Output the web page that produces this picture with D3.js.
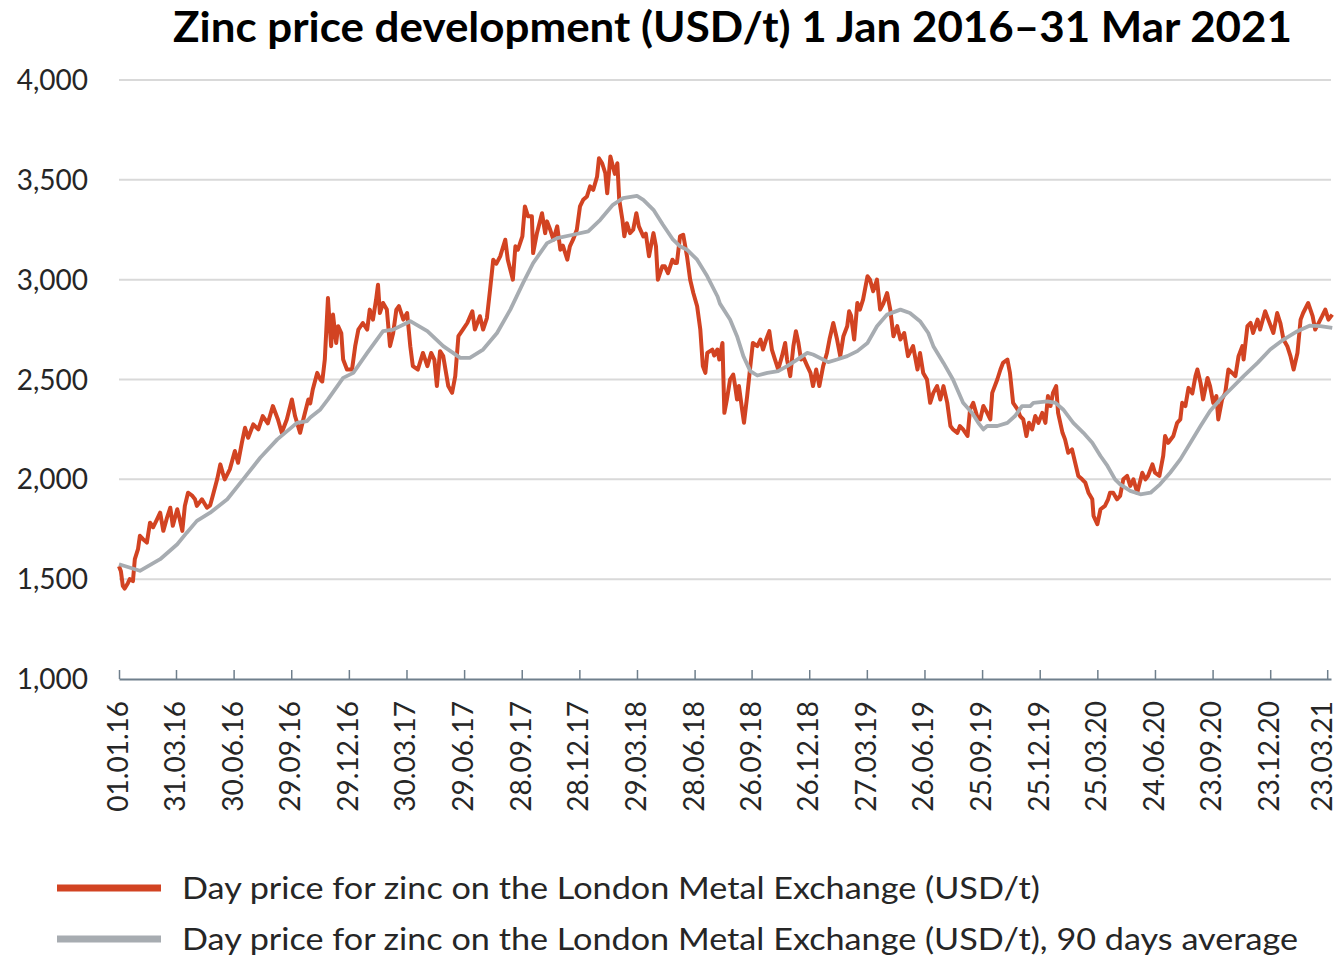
<!DOCTYPE html>
<html>
<head>
<meta charset="utf-8">
<script src="https://cdn.jsdelivr.net/npm/d3@7"></script>
<style>
  body { margin: 0; background: #fff; }
  svg { display: block; font-family: Lato, "Open Sans", sans-serif; }
</style>
</head>
<body>
<svg width="1340" height="963"></svg>
<script>
// days counted from 1 Jan 2016
var startDate = "2016-01-01";
var endDate = "2021-03-29";

var priceDays = [0, 3, 6, 9, 14, 17, 22, 25, 30, 33, 38, 44, 49, 54, 60, 65, 70, 76, 81, 85, 92, 96, 100, 104, 109, 115, 120, 123, 131, 139, 144, 148, 155, 160, 164, 167, 175, 183, 188, 194, 199, 204, 212, 220, 227, 235, 243, 251, 257, 265, 273, 278, 286, 291, 299, 302, 306, 313, 318, 321, 325, 330, 335, 338, 343, 346, 351, 354, 360, 368, 373, 378, 385, 392, 396, 401, 406, 409, 412, 417, 423, 428, 433, 438, 442, 449, 455, 460, 464, 472, 480, 487, 493, 498, 502, 507, 512, 520, 526, 531, 536, 543, 550, 558, 562, 570, 575, 581, 586, 591, 596, 602, 610, 614, 622, 626, 630, 637, 641, 646, 652, 654, 660, 668, 673, 676, 681, 686, 692, 697, 701, 708, 712, 717, 723, 728, 733, 739, 744, 749, 755, 758, 763, 768, 771, 776, 780, 783, 787, 790, 795, 798, 802, 807, 812, 817, 821, 828, 832, 837, 844, 848, 851, 858, 862, 867, 874, 878, 881, 886, 891, 897, 902, 907, 913, 918, 922, 926, 929, 937, 940, 945, 948, 953, 956, 960, 965, 970, 973, 976, 979, 984, 987, 992, 997, 1001, 1008, 1013, 1017, 1022, 1027, 1031, 1036, 1041, 1047, 1052, 1055, 1060, 1065, 1069, 1073, 1077, 1080, 1087, 1092, 1096, 1101, 1106, 1112, 1118, 1122, 1128, 1134, 1139, 1144, 1150, 1153, 1156, 1161, 1166, 1170, 1175, 1182, 1186, 1191, 1197, 1202, 1207, 1213, 1218, 1223, 1229, 1234, 1240, 1246, 1254, 1261, 1265, 1270, 1276, 1281, 1286, 1292, 1297, 1302, 1308, 1313, 1317, 1324, 1328, 1333, 1340, 1344, 1349, 1355, 1360, 1365, 1371, 1376, 1379, 1387, 1392, 1396, 1403, 1407, 1412, 1419, 1423, 1428, 1433, 1437, 1442, 1447, 1452, 1458, 1463, 1467, 1471, 1475, 1480, 1483, 1490, 1494, 1499, 1505, 1510, 1515, 1521, 1526, 1531, 1537, 1539, 1545, 1550, 1557, 1562, 1565, 1570, 1576, 1581, 1586, 1592, 1597, 1602, 1608, 1616, 1621, 1625, 1632, 1636, 1643, 1649, 1652, 1657, 1665, 1671, 1676, 1679, 1684, 1689, 1695, 1700, 1703, 1708, 1712, 1719, 1723, 1728, 1733, 1736, 1742, 1747, 1752, 1758, 1763, 1768, 1774, 1776, 1782, 1787, 1791, 1798, 1802, 1810, 1815, 1823, 1829, 1834, 1839, 1845, 1850, 1855, 1861, 1866, 1870, 1878, 1885, 1889, 1894, 1900, 1905, 1910, 1916];
var priceUsd = [1565, 1540, 1467, 1453, 1480, 1500, 1490, 1600, 1650, 1717, 1700, 1683, 1783, 1760, 1800, 1833, 1742, 1810, 1858, 1767, 1850, 1800, 1742, 1867, 1933, 1920, 1900, 1867, 1900, 1858, 1870, 1917, 2000, 2075, 2030, 2000, 2050, 2142, 2083, 2183, 2258, 2208, 2275, 2250, 2317, 2280, 2367, 2300, 2233, 2300, 2400, 2317, 2233, 2300, 2400, 2380, 2450, 2533, 2500, 2490, 2600, 2908, 2667, 2825, 2683, 2767, 2733, 2600, 2550, 2550, 2667, 2750, 2783, 2750, 2850, 2800, 2900, 2975, 2833, 2883, 2850, 2667, 2733, 2850, 2867, 2800, 2833, 2667, 2567, 2550, 2633, 2567, 2633, 2600, 2467, 2642, 2617, 2467, 2433, 2517, 2717, 2750, 2783, 2842, 2750, 2817, 2750, 2808, 2950, 3100, 3080, 3117, 3200, 3100, 3000, 3167, 3150, 3217, 3367, 3317, 3317, 3133, 3233, 3333, 3233, 3292, 3250, 3200, 3267, 3150, 3170, 3100, 3167, 3200, 3250, 3367, 3400, 3417, 3467, 3450, 3517, 3608, 3583, 3533, 3433, 3617, 3567, 3530, 3583, 3400, 3300, 3217, 3283, 3233, 3250, 3333, 3267, 3217, 3230, 3117, 3233, 3167, 3000, 3067, 3067, 3033, 3100, 3083, 3083, 3217, 3225, 3117, 3000, 2933, 2867, 2750, 2567, 2533, 2633, 2650, 2620, 2650, 2600, 2683, 2333, 2400, 2500, 2525, 2467, 2400, 2467, 2350, 2283, 2417, 2567, 2683, 2667, 2700, 2650, 2700, 2742, 2650, 2600, 2550, 2617, 2683, 2600, 2517, 2667, 2742, 2683, 2600, 2617, 2567, 2533, 2467, 2550, 2467, 2567, 2633, 2700, 2783, 2700, 2617, 2717, 2767, 2842, 2820, 2700, 2883, 2850, 2900, 3017, 3000, 2942, 3000, 2850, 2880, 2933, 2850, 2717, 2767, 2700, 2733, 2617, 2667, 2550, 2633, 2533, 2500, 2383, 2433, 2467, 2400, 2467, 2383, 2267, 2250, 2233, 2267, 2250, 2217, 2350, 2383, 2317, 2300, 2367, 2333, 2300, 2433, 2500, 2550, 2583, 2600, 2533, 2383, 2350, 2317, 2300, 2217, 2283, 2250, 2317, 2283, 2333, 2283, 2417, 2367, 2433, 2467, 2333, 2233, 2200, 2133, 2150, 2083, 2017, 2000, 1983, 1933, 1900, 1817, 1775, 1850, 1867, 1900, 1933, 1933, 1900, 1917, 2000, 2017, 1967, 2000, 1933, 2033, 2000, 2017, 2075, 2033, 2017, 2117, 2217, 2183, 2217, 2283, 2300, 2383, 2367, 2458, 2430, 2517, 2550, 2483, 2400, 2508, 2467, 2383, 2417, 2300, 2400, 2433, 2550, 2533, 2517, 2617, 2667, 2600, 2767, 2783, 2733, 2800, 2750, 2842, 2800, 2733, 2833, 2783, 2700, 2667, 2617, 2550, 2633, 2800, 2833, 2883, 2817, 2750, 2780, 2817, 2850, 2800, 2825];

var avgDays = [0, 33, 65, 92, 107, 123, 144, 171, 196, 223, 250, 281, 297, 302, 318, 330, 354, 370, 392, 417, 433, 460, 487, 512, 539, 554, 575, 597, 618, 638, 654, 676, 692, 717, 741, 760, 780, 796, 818, 828, 844, 859, 875, 886, 897, 913, 929, 945, 949, 965, 976, 986, 997, 1008, 1024, 1041, 1055, 1071, 1087, 1096, 1120, 1134, 1150, 1166, 1182, 1197, 1213, 1234, 1249, 1265, 1278, 1286, 1302, 1317, 1333, 1347, 1357, 1365, 1371, 1387, 1403, 1415, 1426, 1439, 1444, 1466, 1479, 1491, 1507, 1523, 1537, 1550, 1561, 1573, 1581, 1597, 1613, 1629, 1644, 1660, 1676, 1692, 1708, 1723, 1739, 1755, 1776, 1798, 1818, 1839, 1861, 1881, 1897, 1916];
var avgUsd = [1575, 1542, 1600, 1675, 1733, 1792, 1833, 1900, 2000, 2108, 2200, 2283, 2292, 2310, 2350, 2400, 2508, 2533, 2633, 2742, 2750, 2792, 2742, 2667, 2608, 2608, 2650, 2733, 2850, 2983, 3083, 3183, 3208, 3225, 3242, 3300, 3375, 3408, 3420, 3400, 3350, 3275, 3200, 3167, 3150, 3100, 3017, 2917, 2880, 2800, 2717, 2617, 2542, 2520, 2533, 2542, 2567, 2600, 2633, 2625, 2587, 2600, 2617, 2642, 2683, 2767, 2825, 2850, 2833, 2792, 2733, 2667, 2583, 2500, 2383, 2333, 2283, 2250, 2267, 2267, 2283, 2317, 2367, 2367, 2383, 2390, 2383, 2350, 2283, 2233, 2183, 2117, 2067, 2000, 1975, 1942, 1925, 1933, 1975, 2033, 2100, 2183, 2267, 2342, 2400, 2450, 2517, 2583, 2650, 2700, 2742, 2770, 2767, 2758];

var tickLabels = ["01.01.16", "31.03.16", "30.06.16", "29.09.16", "29.12.16", "30.03.17", "29.06.17", "28.09.17", "28.12.17", "29.03.18", "28.06.18", "26.09.18", "26.12.18", "27.03.19", "26.06.19", "25.09.19", "25.12.19", "25.03.20", "24.06.20", "23.09.20", "23.12.20", "23.03.21"];
var yTicks = [1000, 1500, 2000, 2500, 3000, 3500, 4000];
var seriesNames = ["Day price for zinc on the London Metal Exchange (USD/t)",
                   "Day price for zinc on the London Metal Exchange (USD/t), 90 days average"];
var seriesColors = ["#d24322", "#a7acb1"];

var svg = d3.select("svg");
var parseIso = d3.utcParse("%Y-%m-%d");
var parseTick = d3.utcParse("%d.%m.%y");
var start = parseIso(startDate);

var price = priceDays.map(function(d, i) {
    return {date: d3.utcDay.offset(start, d), value: priceUsd[i]};
});
var avg = avgDays.map(function(d, i) {
    return {date: d3.utcDay.offset(start, d), value: avgUsd[i]};
});

var x = d3.scaleUtc()
    .domain([start, parseIso(endDate)])
    .range([119, 1331]);
var y = d3.scaleLinear()
    .domain([1000, 4000])
    .range([679, 80]);

// title
svg.append("text")
    .attr("x", 173)
    .attr("y", 42)
    .attr("font-size", 42)
    .attr("font-weight", "bold")
    .attr("fill", "#000")
    .attr("textLength", 1119)
    .attr("lengthAdjust", "spacingAndGlyphs")
    .text("Zinc price development (USD/t) 1 Jan 2016\u201331 Mar 2021");

// grid
svg.append("g")
    .selectAll("line")
    .data(yTicks.filter(function(d) { return d > 1000; }))
    .enter().append("line")
    .attr("x1", 119)
    .attr("x2", 1331)
    .attr("y1", function(d) { return y(d); })
    .attr("y2", function(d) { return y(d); })
    .attr("stroke", "#d9d9d9")
    .attr("stroke-width", 2);

// y labels
svg.append("g")
    .selectAll("text")
    .data(yTicks)
    .enter().append("text")
    .attr("x", 88)
    .attr("y", function(d) { return y(d); })
    .attr("dy", "0.36em")
    .attr("text-anchor", "end")
    .attr("font-size", 28)
    .attr("fill", "#262626")
    .text(d3.format(","));

// x axis
var xAxis = d3.axisBottom(x)
    .tickValues(tickLabels.map(parseTick))
    .tickSizeInner(-9)
    .tickSizeOuter(0)
    .tickFormat(d3.utcFormat("%d.%m.%y"));

var gx = svg.append("g")
    .attr("transform", "translate(0,679)")
    .call(xAxis);
gx.select(".domain").attr("stroke", "#6f7f8c").attr("stroke-width", 2);
gx.selectAll(".tick line").attr("stroke", "#6f7f8c").attr("stroke-width", 1.5);
gx.selectAll(".tick text")
    .attr("font-family", "Lato, sans-serif")
    .attr("font-size", 28)
    .attr("fill", "#262626")
    .attr("transform", "rotate(-90)")
    .attr("text-anchor", "end")
    .attr("x", -22)
    .attr("y", function(d, i) { return i == tickLabels.length - 1 ? -4 : 0; })
    .attr("dy", "0.3em");

// lines
var line = d3.line()
    .x(function(d) { return x(d.date); })
    .y(function(d) { return y(d.value); });

svg.append("path")
    .datum(price)
    .attr("d", line)
    .attr("fill", "none")
    .attr("stroke", seriesColors[0])
    .attr("stroke-width", 4)
    .attr("stroke-linejoin", "round");

svg.append("path")
    .datum(avg)
    .attr("d", line)
    .attr("fill", "none")
    .attr("stroke", seriesColors[1])
    .attr("stroke-width", 3.8)
    .attr("stroke-linejoin", "round");

// legend
var legendWidths = [858, 1116];
var legend = svg.append("g")
    .selectAll("g")
    .data(seriesNames)
    .enter().append("g")
    .attr("transform", function(d, i) { return "translate(0," + (888 + i * 51) + ")"; });

legend.append("line")
    .attr("x1", 57)
    .attr("x2", 161)
    .attr("stroke", function(d, i) { return seriesColors[i]; })
    .attr("stroke-width", 7);

legend.append("text")
    .attr("x", 182)
    .attr("dy", "0.36em")
    .attr("font-size", 31)
    .attr("fill", "#262626")
    .attr("textLength", function(d, i) { return legendWidths[i]; })
    .attr("lengthAdjust", "spacingAndGlyphs")
    .text(function(d) { return d; });
</script>
</body>
</html>
